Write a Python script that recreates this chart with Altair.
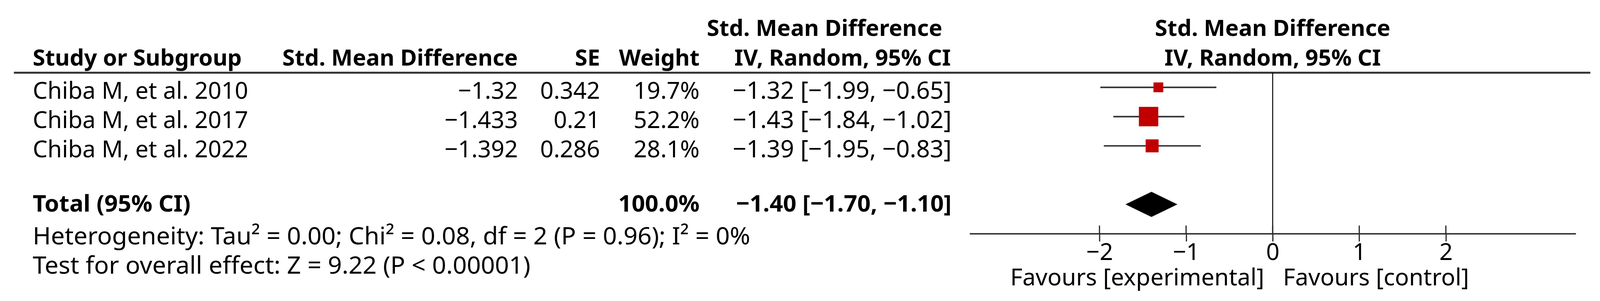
import altair as alt
import pandas as pd

# ---------------- data ----------------
studies = ["Chiba M, et al. 2010", "Chiba M, et al. 2017", "Chiba M, et al. 2022"]
smd = [-1.32, -1.433, -1.392]
se = [0.342, 0.21, 0.286]
weights = [19.7, 52.2, 28.1]
ci_low = [-1.99, -1.84, -1.95]
ci_high = [-0.65, -1.02, -0.83]

total_label = "Total (95% CI)"
total_weight = 100.0
total_smd = -1.40
total_low = -1.70
total_high = -1.10

heterogeneity = "Heterogeneity: Tau² = 0.00; Chi² = 0.08, df = 2 (P = 0.96); I² = 0%"
overall_effect = "Test for overall effect: Z = 9.22 (P < 0.00001)"

col_headers = ["Study or Subgroup", "Std. Mean Difference", "SE", "Weight", "IV, Random, 95% CI"]
ci_group_header = "Std. Mean Difference"
plot_headers = ["Std. Mean Difference", "IV, Random, 95% CI"]
tick_values = [-2, -1, 0, 1, 2]
favours = ["Favours [experimental]", "Favours [control]"]
x_domain = [-3.5, 3.5]

# ---------------- style / layout ----------------
FONT = "Noto Sans"
FS = 61
FS_HEAD = 59
FS_CI = 62.5
FS_FOOT = 64
DARK = "#333333"
RED = "#C00000"
W, H = 4149, 755
XS = alt.Scale(domain=x_domain, range=[2516, 4094], nice=False, zero=False)
YS = alt.Scale(domain=[0, 5], range=[213, 594], nice=False, zero=False)
AXIS = alt.Axis(values=tick_values, format="d", grid=False, domainColor=DARK, domainWidth=4,
                tickColor="#222222", tickWidth=3, tickSize=20, labelPadding=0,
                labelFont=FONT, labelFontSize=FS, labelColor="black", offset=-161)

X_NAME, X_SMD, X_SE, X_W, X_CI = 77, 1340, 1554, 1813, 2469
X_CI_H1, X_CI_H2 = 2445, 2467
ROW_H1, ROW_H2, ROW_RULE = -2.15, -1.14, -0.5
ROW_TOTAL, ROW_HET, ROW_TEST, ROW_FAV = 3.86, 4.97, 5.98, 6.38
AXIS_ROW = 5
DIAMOND_H = 0.43
TICK_UP = 21 / 76.2


def m(s):
    return s.replace("-", "\u2212")


rows = list(range(len(studies)))
study_df = pd.DataFrame({
    "row": rows,
    "name": studies,
    "smd": smd,
    "lo": ci_low,
    "hi": ci_high,
    "weight": weights,
    "smd_s": [m(str(v)) for v in smd],
    "se_s": [str(v) for v in se],
    "w_s": [f"{w:.1f}%" for w in weights],
    "ci_s": [m(f"{s:.2f} [{l:.2f}, {h:.2f}]") for s, l, h in zip(smd, ci_low, ci_high)],
})


def txt(df, field, x, align="right", bold=False, dx=0, size=FS):
    xenc = alt.value(x) if isinstance(x, (int, float)) else x
    return alt.Chart(df).mark_text(
        align=align, baseline="alphabetic", dy=30, dx=dx, font=FONT, fontSize=size,
        fontWeight="bold" if bold else "normal", color="black"
    ).encode(
        x=xenc,
        y=alt.Y("row:Q", scale=YS, axis=None),
        text=f"{field}:N",
    )


def one(label, row):
    return pd.DataFrame({"row": [row], "label": [label]})


layers = []

# header texts
layers.append(txt(one(col_headers[0], ROW_H2), "label", X_NAME, align="left", bold=True, size=FS_HEAD))
layers.append(txt(one(col_headers[1], ROW_H2), "label", X_SMD, bold=True, size=FS_HEAD))
layers.append(txt(one(col_headers[2], ROW_H2), "label", X_SE, bold=True, size=FS_HEAD))
layers.append(txt(one(col_headers[3], ROW_H2), "label", X_W, bold=True, size=FS_HEAD))
layers.append(txt(one(ci_group_header, ROW_H1), "label", X_CI_H1, bold=True, size=FS_HEAD))
layers.append(txt(one(col_headers[4], ROW_H2), "label", X_CI_H2, bold=True, size=FS_HEAD))
layers.append(txt(one(plot_headers[0], ROW_H1), "label", alt.datum(0), align="center", bold=True, size=FS_HEAD))
layers.append(txt(one(plot_headers[1], ROW_H2), "label", alt.datum(0), align="center", bold=True, size=FS_HEAD))

# header rule
layers.append(alt.Chart(one("", ROW_RULE)).mark_rule(color=DARK, strokeWidth=5).encode(
    x=alt.value(28), x2=alt.value(4132), y=alt.Y("row:Q", scale=YS, axis=None)))

# study rows
layers.append(txt(study_df, "name", X_NAME, align="left"))
layers.append(txt(study_df, "smd_s", X_SMD))
layers.append(txt(study_df, "se_s", X_SE))
layers.append(txt(study_df, "w_s", X_W))
layers.append(txt(study_df, "ci_s", X_CI, size=FS_CI))

# total row
layers.append(txt(one(total_label, ROW_TOTAL), "label", X_NAME, align="left", bold=True))
layers.append(txt(one(f"{total_weight:.1f}%", ROW_TOTAL), "label", X_W, bold=True))
layers.append(txt(one(m(f"{total_smd:.2f} [{total_low:.2f}, {total_high:.2f}]"), ROW_TOTAL),
                  "label", X_CI, bold=True))

# footnotes
layers.append(txt(one(heterogeneity, ROW_HET), "label", X_NAME, align="left", size=FS_FOOT))
layers.append(txt(one(overall_effect, ROW_TEST), "label", X_NAME, align="left", size=FS_FOOT))

# favours labels
layers.append(txt(one(favours[0], ROW_FAV), "label", alt.datum(0), align="right", dx=-22))
layers.append(txt(one(favours[1], ROW_FAV), "label", alt.datum(0), align="left", dx=27))

# zero line
layers.append(alt.Chart(one("", ROW_RULE)).mark_rule(color="black", strokeWidth=2.5).encode(
    x=alt.datum(0), y=alt.Y("row:Q", scale=YS, axis=None), y2=alt.datum(AXIS_ROW)))

# upper halves of axis ticks
tick_df = pd.DataFrame({"t": tick_values, "y1": [AXIS_ROW - TICK_UP] * len(tick_values),
                        "y2": [AXIS_ROW] * len(tick_values)})
layers.append(alt.Chart(tick_df).mark_rule(color="#222222", strokeWidth=3).encode(
    x=alt.X("t:Q", scale=XS, axis=AXIS, title=""),
    y=alt.Y("y1:Q", scale=YS, axis=None), y2="y2:Q"))

# CI lines
layers.append(alt.Chart(study_df).mark_rule(color=DARK, strokeWidth=4).encode(
    x=alt.X("lo:Q", scale=XS, axis=AXIS, title=""), x2="hi:Q",
    y=alt.Y("row:Q", scale=YS, axis=None)))

# squares
layers.append(alt.Chart(study_df).mark_square(color=RED, filled=True, opacity=1).encode(
    x=alt.X("smd:Q", scale=XS, axis=AXIS, title=""),
    y=alt.Y("row:Q", scale=YS, axis=None),
    size=alt.Size("weight:Q", scale=alt.Scale(zero=False, range=[650, 2550]), legend=None)))

# diamond
diamond_df = pd.DataFrame({
    "x": [total_low, total_smd, total_high],
    "y1": [4, 4 - DIAMOND_H, 4],
    "y2": [4, 4 + DIAMOND_H, 4],
})
layers.append(alt.Chart(diamond_df).mark_area(color="black", orient="vertical", opacity=1).encode(
    x=alt.X("x:Q", scale=XS, axis=AXIS, title=""),
    y=alt.Y("y1:Q", scale=YS, axis=None), y2="y2:Q"))

chart = alt.layer(*layers).properties(
    width=W, height=H, padding=0, autosize=alt.AutoSizeParams(type="none"),
    background="white"
).configure_view(stroke=None)

chart.save("out.html", embed_options={"renderer": "svg", "actions": False})
